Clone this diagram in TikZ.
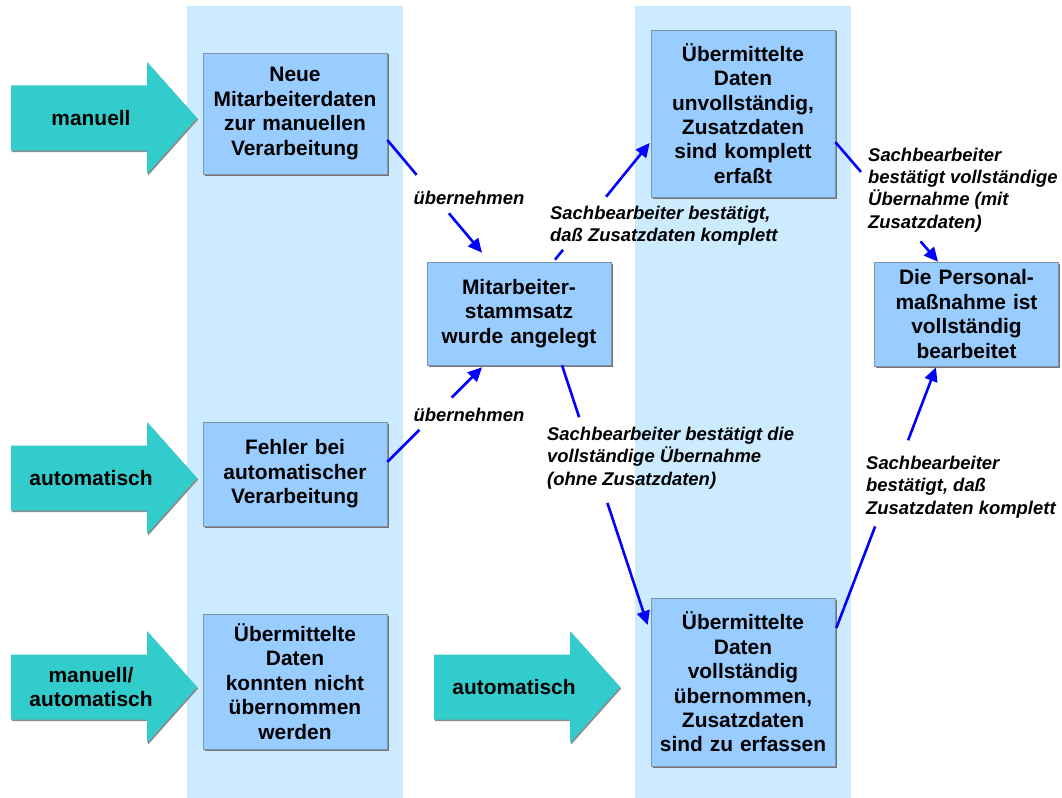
\documentclass[tikz,border=0pt]{standalone}
\usepackage{fontspec}
\setmainfont{Liberation Sans}
\usepackage{tikz}
\usetikzlibrary{arrows.meta}
\usetikzlibrary{calc}
\usetikzlibrary{shadows}
\definecolor{colbg}{HTML}{CCEBFF}
\definecolor{boxfill}{HTML}{99CCFF}
\definecolor{boxedge}{HTML}{7F93AD}
\definecolor{arrowteal}{HTML}{33CCCC}
\definecolor{flowblue}{HTML}{0000FF}
\tikzset{statebox/.style = {fill=boxfill, draw=boxedge, line width=0.6bp,
                            minimum width=184bp, text width=176bp, inner sep=4bp,
                            align=center, font=\bfseries\fontsize{21}{24.5}\selectfont,
                            drop shadow={shadow xshift=1.5bp, shadow yshift=-1.5bp,
                                         fill=black!55, opacity=1}}}
\tikzset{arrowbody/.style = {fill=arrowteal,
                             drop shadow={shadow xshift=1.2bp, shadow yshift=-1.5bp,
                                          fill=black!45, opacity=1}}}
\tikzset{arrowtext/.style = {align=center, inner sep=0,
                             font=\bfseries\fontsize{21}{24.5}\selectfont}}
\tikzset{flowline/.style = {draw=flowblue, line width=2.6bp}}
\tikzset{flow/.style = {flowline, -{Triangle[length=14bp, width=13bp]}}}
\tikzset{flowlabel/.style = {align=left, inner sep=0,
                             font=\bfseries\itshape\fontsize{18.5}{22.5}\selectfont}}
\newcommand{\bigarrow}[4]{%
  \fill [arrowbody] (#2, #3) ++(0, -32.5) -- ++(136, 0) -- ++(0, -23.5)
        -- ++(50, 56) -- ++(-50, 56) -- ++(0, -23.5) -- ++(-136, 0) -- cycle;
  \node [arrowtext] (#1) at ({#2 + 80}, #3) {#4};}
\newcommand{\splitflow}[4]{%
  \draw [flowline] (#1) -- ($(#1)!#3!(#2)$);
  \draw [flow] ($(#1)!#4!(#2)$) -- (#2);}

\begin{document}
\begin{tikzpicture}[x=1bp, y=-1bp]
      \useasboundingbox (0, 0) rectangle (1062, 798);

      \fill [colbg] (187, 6) rectangle (403, 798);
      \fill [colbg] (635, 6) rectangle (851, 798);

      \bigarrow{inManuell}{11}{118}{manuell}
      \bigarrow{inAuto}{11}{478}{automatisch}
      \bigarrow{inBeide}{11}{687}{manuell/\\automatisch}
      \bigarrow{inAutoMitte}{434}{687}{automatisch}

      \node [statebox, minimum height=121bp] (neue) at (295, 113.5)
            {Neue\\Mitarbeiterdaten\\zur manuellen\\Verarbeitung};
      \node [statebox, minimum height=104bp] (fehler) at (295, 474)
            {Fehler bei\\automatischer\\Verarbeitung};
      \node [statebox, minimum height=135bp] (nicht) at (295, 681.5)
            {Übermittelte\\Daten\\konnten nicht\\übernommen\\werden};
      \node [statebox, minimum height=103bp] (stamm) at (519, 313.5)
            {Mitarbeiter-\\stammsatz\\wurde angelegt};
      \node [statebox, minimum height=167bp] (unvoll) at (743, 113.5)
            {Übermittelte\\Daten\\unvollständig,\\Zusatzdaten\\sind komplett\\erfaßt};
      \node [statebox, minimum height=168bp] (voll) at (743, 682)
            {Übermittelte\\Daten\\vollständig\\übernommen,\\Zusatzdaten\\sind zu erfassen};
      \node [statebox, minimum height=104bp] (pers) at (966.5, 314)
            {Die Personal-\\maßnahme ist\\vollständig\\bearbeitet};

      \coordinate (c1s) at ($(neue.east) + (0, 26.5)$);
      \coordinate (c1e) at ($(stamm.north) + (-37, -9)$);
      \coordinate (c2s) at ($(fehler.east) + (0, -12)$);
      \coordinate (c2e) at ($(stamm.south) + (-37, 2)$);
      \coordinate (c3s) at ($(stamm.north) + (36, -2)$);
      \coordinate (c3e) at ($(unvoll.west) + (-1, 29.5)$);
      \coordinate (c4s) at ($(stamm.south) + (43, 0)$);
      \coordinate (c4e) at ($(voll.west) + (-3, -57)$);
      \coordinate (c5s) at ($(unvoll.east) + (0, 28.5)$);
      \coordinate (c5e) at ($(pers.north) + (-28.5, 0)$);
      \coordinate (c6s) at ($(voll.east) + (1, -54)$);
      \coordinate (c6e) at ($(pers.south) + (-30.5, 1)$);

      \splitflow{c1s}{c1e}{0.31}{0.65}
      \splitflow{c2s}{c2e}{0.34}{0.68}
      \splitflow{c3s}{c3e}{0.085}{0.54}
      \splitflow{c4s}{c4e}{0.2}{0.53}
      \splitflow{c5s}{c5e}{0.25}{0.83}
      \splitflow{c6s}{c6e}{0.39}{0.72}

      \node [flowlabel] (lbUeb1) at (469, 198) {übernehmen};
      \node [flowlabel] (lbUeb2) at (469, 415) {übernehmen};
      \node [flowlabel, anchor=west] (lbKompl1) at (550, 226)
            {Sachbearbeiter bestätigt,\\daß Zusatzdaten komplett};
      \node [flowlabel, anchor=west] (lbOhne) at (547, 458)
            {Sachbearbeiter bestätigt die\\vollständige Übernahme\\(ohne Zusatzdaten)};
      \node [flowlabel, anchor=west] (lbMit) at (868, 190)
            {Sachbearbeiter\\bestätigt vollständige\\Übernahme (mit\\Zusatzdaten)};
      \node [flowlabel, anchor=west] (lbKompl2) at (866, 487)
            {Sachbearbeiter\\bestätigt, daß\\Zusatzdaten komplett};
\end{tikzpicture}
\end{document}
